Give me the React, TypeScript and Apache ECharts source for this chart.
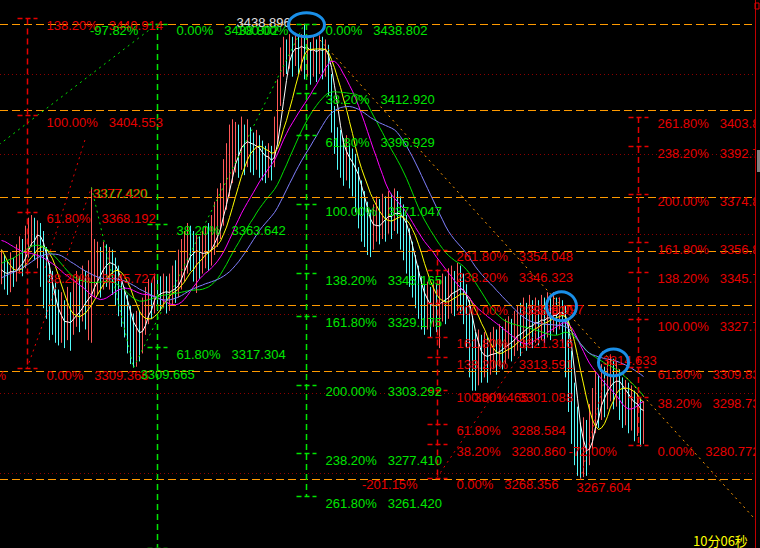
import { useEffect, useRef } from 'react';
import * as echarts from 'echarts';

// Closes of the bars that come before the visible window (they seed the averages)
const priorCloses = [
  3322, 3325, 3320, 3326, 3329, 3324, 3327, 3331, 3328, 3333,
  3330, 3326, 3329, 3334, 3331, 3327, 3330, 3333, 3329, 3332,
  3345, 3352, 3356, 3361, 3358, 3364, 3362, 3366, 3360, 3363,
  3367, 3365, 3368, 3362, 3359, 3354, 3350, 3346, 3343, 3345,
];

// One-minute bars: closing, high and low prices
const closes = [
  3348.0, 3345.2, 3343.9, 3346.5, 3344.8, 3349.7, 3352.3, 3350.1, 3356.8, 3359.5,
  3362.4, 3358.0, 3360.9, 3354.2, 3347.6, 3340.3, 3335.8, 3330.2, 3327.5, 3325.1,
  3327.8, 3324.6, 3329.3, 3326.0, 3331.7, 3334.5, 3330.8, 3337.2, 3335.0, 3339.6,
  3341.8, 3345.1, 3348.6, 3346.2, 3351.0, 3349.3, 3350.5, 3346.8, 3343.0, 3338.9,
  3334.6, 3331.0, 3327.3, 3322.5, 3318.7, 3324.4, 3321.0, 3329.8, 3333.5, 3336.9,
  3335.2, 3339.4, 3338.1, 3337.0, 3339.8, 3336.5, 3338.2, 3341.9, 3340.3, 3345.6,
  3348.9, 3352.4, 3355.8, 3354.5, 3351.2, 3353.8, 3350.6, 3352.9, 3355.1, 3353.0,
  3358.6, 3361.4, 3365.9, 3369.4, 3376.8, 3381.0, 3386.5, 3391.2, 3394.8, 3392.0,
  3396.9, 3393.5, 3395.7, 3392.1, 3389.8, 3393.4, 3390.0, 3387.2, 3385.6, 3388.1,
  3387.0, 3396.0, 3411.5, 3423.8, 3429.6, 3427.2, 3431.0, 3428.4, 3432.1, 3429.0,
  3431.5, 3427.6, 3429.8, 3426.5, 3430.2, 3427.9, 3431.4, 3428.3, 3429.5, 3418.0,
  3405.2, 3396.8, 3392.5, 3390.2, 3386.4, 3388.9, 3385.0, 3383.7, 3379.2, 3374.0,
  3368.5, 3364.8, 3362.0, 3358.5, 3363.2, 3366.9, 3364.1, 3367.5, 3365.2, 3368.8,
  3366.4, 3369.9, 3368.0, 3364.3, 3360.8, 3356.2, 3350.5, 3345.8, 3341.0, 3337.4,
  3333.0, 3331.5, 3334.2, 3330.6, 3335.8, 3332.4, 3334.9, 3337.8, 3335.3, 3338.6,
  3340.2, 3337.9, 3341.0, 3339.1, 3336.2, 3330.5, 3322.8, 3314.6, 3311.9, 3316.2,
  3313.0, 3315.8, 3312.4, 3315.0, 3317.6, 3314.9, 3318.3, 3316.5, 3319.7, 3321.8,
  3319.4, 3322.9, 3324.5, 3322.0, 3326.8, 3324.3, 3327.9, 3325.6, 3328.1, 3326.9,
  3329.4, 3327.2, 3330.0, 3328.5, 3331.2, 3329.8, 3332.0, 3330.1, 3322.4, 3309.0,
  3296.8, 3284.5, 3278.2, 3272.0, 3280.6, 3277.3, 3286.9, 3292.4, 3298.8, 3296.5,
  3302.7, 3300.4, 3305.1, 3307.8, 3303.6, 3305.9, 3300.2, 3297.5, 3299.6, 3295.8,
  3297.0, 3293.2, 3294.5, 3290.8, 3292.1,
];

const highs = [
  3354, 3352, 3350, 3353, 3351, 3356, 3359, 3358, 3363, 3366,
  3367, 3366, 3365, 3364, 3361, 3355, 3349, 3346, 3342, 3339,
  3338, 3335, 3340, 3338, 3343, 3346, 3344, 3348, 3346, 3350,
  3377.42, 3358, 3357, 3355, 3357, 3356, 3355, 3354, 3351, 3348,
  3343, 3340, 3337, 3333, 3330, 3331, 3331, 3336, 3340, 3343,
  3342, 3345, 3344, 3344, 3345, 3344, 3345, 3348, 3350, 3354,
  3358, 3361, 3364, 3363, 3361, 3360, 3359, 3361, 3363, 3364,
  3367, 3372, 3377, 3379, 3388, 3394, 3401, 3403, 3402, 3401,
  3404, 3401, 3403, 3400, 3398, 3399, 3397, 3395, 3393, 3394,
  3393, 3404, 3418, 3430, 3434, 3433, 3435, 3434, 3435.5, 3434,
  3435, 3438.896, 3434, 3432, 3434, 3433, 3434.5, 3434, 3433, 3431,
  3420, 3408, 3400, 3399, 3396, 3397, 3394, 3392, 3390, 3385,
  3380, 3376, 3372, 3369, 3371, 3374, 3373, 3375, 3374, 3376,
  3375, 3377, 3376, 3374, 3371, 3367, 3362, 3357, 3352, 3348,
  3344, 3341, 3342, 3340, 3342, 3341, 3343, 3345, 3344, 3347,
  3348, 3346, 3349, 3348, 3345, 3341, 3335, 3329, 3323, 3324,
  3322, 3323, 3321, 3323, 3325, 3324, 3326, 3325, 3328, 3329,
  3328, 3331, 3333, 3334, 3336, 3334, 3337, 3335, 3336, 3335,
  3337, 3336, 3338, 3337, 3338, 3336, 3336.097, 3335, 3333, 3328,
  3316, 3304, 3295, 3289, 3291, 3290, 3296, 3302, 3308, 3307,
  3311, 3310, 3313, 3314.633, 3313, 3312, 3309, 3306, 3305, 3304,
  3303, 3301, 3300, 3298, 3297,
];

const lows = [
  3341, 3339, 3337, 3338, 3340, 3342, 3345, 3344, 3347, 3351,
  3355, 3350, 3347, 3340, 3332, 3328, 3320, 3322, 3319, 3318,
  3319, 3317, 3320, 3316, 3322, 3325, 3323, 3327, 3324, 3320,
  3319, 3336, 3337, 3336, 3339, 3340, 3339, 3337, 3333, 3329,
  3325, 3321, 3315, 3311, 3309.665, 3310, 3312, 3315, 3322, 3326,
  3328, 3330, 3331, 3331, 3332, 3330, 3331, 3333, 3334, 3336,
  3339, 3342, 3345, 3346, 3342, 3337.7, 3343, 3345, 3347, 3346,
  3348, 3352, 3355, 3358, 3363, 3369, 3374, 3379, 3383, 3381,
  3384, 3382, 3385, 3383, 3382, 3384, 3381, 3380, 3379, 3381,
  3380, 3385, 3394, 3408, 3419, 3420, 3422, 3419, 3423, 3420,
  3421, 3418, 3419, 3416, 3419, 3417, 3420, 3418, 3419, 3412,
  3398, 3390, 3384, 3381, 3378, 3380, 3377, 3374, 3368, 3362,
  3357, 3355, 3352, 3351.2, 3354, 3357, 3356, 3358, 3357, 3360,
  3358, 3361, 3360, 3354, 3350, 3345, 3340, 3336, 3332, 3328,
  3324, 3322, 3324, 3321, 3325, 3323, 3317, 3327, 3326, 3328,
  3330, 3329, 3331, 3330, 3326, 3317, 3306, 3301, 3301, 3303,
  3304, 3306, 3304, 3307, 3309, 3307, 3310, 3309, 3311, 3313,
  3312, 3314, 3316, 3314, 3317, 3316, 3318, 3317, 3319, 3318,
  3320, 3319, 3321, 3320, 3323, 3322, 3324, 3319, 3306, 3293,
  3281, 3273, 3269, 3267.604, 3268.5, 3269, 3273, 3279, 3285, 3287,
  3290, 3291, 3294, 3297, 3294, 3295, 3290, 3287, 3288, 3285,
  3286, 3282, 3284, 3280, 3281,
];

// Moving averages: period and colour
const maPeriods = [5, 10, 20, 30, 40];
const maColors = ['#ffffff', '#ffff00', '#ff00ff', '#00e000', '#8080ff'];

// Price grid and horizontal key levels
const gridPrices = [3270, 3300, 3330, 3360, 3390, 3420];
const keyPrices = [3438.7, 3406.5, 3373.8, 3353.5, 3333.2, 3308.4, 3267.7];

// Fibonacci tools: [label, price] levels
type Level = [string, number];
const fibR1Levels: Level[] = [
  ['138.20%', 3440.914], ['100.00%', 3404.553], ['61.80%', 3368.192],
  ['38.20%', 3345.727], ['0.00%', 3309.366],
];
const fibG1Levels: Level[] = [
  ['0.00%', 3438.802], ['38.20%', 3363.642], ['61.80%', 3317.304],
];
const fibG1Tail = 3242.05;
const fibG2Levels: Level[] = [
  ['0.00%', 3438.802], ['38.20%', 3412.920], ['61.80%', 3396.929],
  ['100.00%', 3371.047], ['138.20%', 3345.165], ['161.80%', 3329.175],
  ['200.00%', 3303.292], ['238.20%', 3277.410], ['261.80%', 3261.420],
];
const fibR2Levels: Level[] = [
  ['261.80%', 3354.048], ['238.20%', 3346.323], ['200.00%', 3333.820],
  ['161.80%', 3321.316], ['138.20%', 3313.591], ['100.00%', 3301.088],
  ['61.80%', 3288.584], ['38.20%', 3280.860], ['0.00%', 3268.356],
];
const fibR3Levels: Level[] = [
  ['261.80%', 3403.870], ['238.20%', 3392.774], ['200.00%', 3374.812],
  ['161.80%', 3356.850], ['138.20%', 3345.752], ['100.00%', 3327.792],
  ['61.80%', 3309.830], ['38.20%', 3298.734], ['0.00%', 3280.772],
];

const RED = '#e60000';
const GREEN = '#00e600';
const UP = '#ff5858';
const DOWN = '#54fcfc';
const ORANGE = '#ff9a00';
const FONT = '13px "Liberation Sans", Arial, sans-serif';
const NB = '\u00a0\u00a0\u00a0';

function movingAverage(n: number): number[][] {
  const all = priorCloses.concat(closes);
  const off = priorCloses.length;
  const out: number[][] = [];
  for (let i = 0; i < closes.length; i++) {
    const end = off + i;
    const start = Math.max(0, end - n + 1);
    let sum = 0;
    for (let k = start; k <= end; k++) sum += all[k];
    out.push([i, sum / (end - start + 1)]);
  }
  return out;
}

export default function App() {
  const ref = useRef<HTMLDivElement>(null);

  useEffect(() => {
    if (!ref.current) return;
    const chart = echarts.init(ref.current, undefined, { renderer: 'svg' });

    const bars = closes.map((c, i) => {
      const o = i === 0 ? priorCloses[priorCloses.length - 1] : closes[i - 1];
      const hi = Math.max(highs[i], o, c);
      const lo = Math.min(lows[i], o, c);
      return [i, lo, hi, c >= o ? 1 : 0];
    });

    chart.setOption({
      animation: false,
      backgroundColor: '#000000',
      grid: { left: 0, top: 0, width: 756, height: 548 },
      xAxis: { type: 'value', min: -0.5, max: 251.5, show: false },
      yAxis: { type: 'value', min: 3241.88, max: 3447.82, show: false },
      series: [
        {
          type: 'custom',
          z: 2,
          data: bars,
          encode: { x: 0, y: [1, 2] },
          renderItem: (_p: any, api: any) => {
            const i = api.value(0);
            const a = api.coord([i, api.value(1)]);
            const b = api.coord([i, api.value(2)]);
            return {
              type: 'line',
              shape: { x1: a[0], y1: a[1], x2: b[0], y2: b[1] },
              style: { stroke: api.value(3) ? UP : DOWN, lineWidth: 1 },
            };
          },
        },
        ...maPeriods.map((n, k) => ({
          type: 'line',
          z: 3,
          data: movingAverage(n),
          showSymbol: false,
          silent: true,
          lineStyle: { color: maColors[k], width: 1 },
        })),
      ],
    });

    const px = (bar: number, price: number) =>
      chart.convertToPixel({ gridIndex: 0 }, [bar, price]) as number[];
    const xL = px(-0.5, 3300)[0];
    const xR = px(251.5, 3300)[0];

    const g: any[] = [];
    const line = (x1: number, y1: number, x2: number, y2: number, stroke: string, dash: number[] | null, w = 1, z = 5) =>
      g.push({ type: 'line', silent: true, z, shape: { x1, y1, x2, y2 }, style: { stroke, lineWidth: w, lineDash: dash } });
    const text = (t: string, x: number, y: number, fill: string, align = 'left', font = FONT) =>
      g.push({
        type: 'text', silent: true, z: 8, x, y,
        style: { text: t, fill, font, align, verticalAlign: 'middle', textAlign: align, textVerticalAlign: 'middle' },
      });

    gridPrices.forEach((p) => {
      const y = Math.round(px(0, p)[1]) + 0.5;
      line(xL, y, xR, y, '#8c0000', [1, 3], 1, 0);
    });
    keyPrices.forEach((p) => {
      const y = Math.round(px(0, p)[1]) + 0.5;
      line(xL, y, xR, y, ORANGE, [8, 4], 1, 4);
    });

    // trend lines
    const seg = (b1: number, p1: number, b2: number, p2: number, c: string) => {
      const a = px(b1, p1);
      const b = px(b2, p2);
      line(a[0], a[1], b[0], b[1], c, [2, 4], 1, 5);
    };
    seg(-4, 3390.7, 51.83, 3438.8, GREEN);
    seg(44, 3309.665, 101, 3438.896, GREEN);
    seg(30, 3377.42, 44, 3309.665, GREEN);
    seg(8.5, 3309.366, 30, 3377.42, RED);
    seg(14.5, 3347.1, 27.8, 3395.2, RED);
    seg(145.17, 3268.356, 186, 3336.097, RED);
    seg(193, 3267.604, 203, 3314.633, RED);
    seg(106.17, 3432.79, 251.5, 3252.3, ORANGE);

    // fibonacci scales
    const fib = (bar: number, levels: Level[], color: string, tail?: number) => {
      const x = Math.round(px(bar, 3300)[0]) + 0.5;
      const prices = levels.map((l) => l[1]);
      if (tail !== undefined) prices.push(tail);
      const top = px(bar, Math.max(...prices))[1];
      const bot = px(bar, Math.min(...prices))[1];
      line(x, top, x, bot, color, [6, 4], 1.5, 6);
      prices.forEach((p) => {
        const y = Math.round(px(bar, p)[1]) + 0.5;
        line(x - 10, y, x + 10, y, color, [5, 3], 1.5, 6);
      });
      levels.forEach(([label, p]) => {
        text(label + NB + p.toFixed(3), x + 19, px(bar, p)[1] + 7, color);
      });
    };
    fib(8.5, fibR1Levels, RED);
    fib(51.83, fibG1Levels, GREEN, fibG1Tail);
    fib(101.5, fibG2Levels, GREEN);
    fib(145.17, fibR2Levels, RED);
    fib(212.17, fibR3Levels, RED);

    // point annotations
    const note = (t: string, bar: number, price: number, dx: number, dy: number, c: string, align = 'left') => {
      const p = px(bar, price);
      text(t, p[0] + dx, p[1] + dy, c, align);
    };
    note('3438.896', 101, 3438.896, -68, -1, '#e0e0e0');
    note('-97.82%', 51.83, 3438.802, -67, 7, GREEN);
    note('100.00%', 51.83, 3438.802, 80, 7, GREEN);
    note('3377.420', 30, 3377.42, 2, 6, GREEN);
    note('3377.420', 30, 3377.42, 1, 6, RED);
    note('3309.665', 44, 3309.665, 7, 7, GREEN);
    note('61.80%', 8.5, 3309.366, -21, 7, RED, 'right');
    note('-201.15%', 101.5, 3268.356, 56, 7, RED);
    note('3301.465', 145.17, 3301.088, 37, 7, RED);
    note('3336.097', 186, 3336.097, -30, 12, RED);
    note('3314.633', 203, 3314.633, -8, 6, RED);
    note('-72.00%', 193, 3280.86, -12, 7, RED);
    note('3267.604', 193, 3267.604, -4, 8, RED);

    // highlight rings
    const ring = (bar: number, price: number, rx: number, ry: number, dx: number, dy: number) => {
      const p = px(bar, price);
      g.push({
        type: 'ellipse', silent: true, z: 9,
        shape: { cx: p[0] + dx, cy: p[1] + dy, rx, ry },
        style: { fill: 'none', stroke: '#1a8fe8', lineWidth: 3 },
      });
    };
    ring(101, 3438.896, 18, 12, 2, 1);
    ring(186, 3336.097, 15, 14.5, 2, 9);
    ring(204, 3314.633, 15, 13.5, 0, 8);

    text('10分06秒', 693, 540, '#ffff00', 'left', '13px "Noto Sans CJK SC", sans-serif');

    // right edge strip
    g.push({ type: 'rect', silent: true, z: 20, shape: { x: 756, y: 0, width: 4, height: 548 }, style: { fill: '#000' } });
    g.push({ type: 'line', silent: true, z: 21, shape: { x1: 755.5, y1: 0, x2: 755.5, y2: 548 }, style: { stroke: '#c00000', lineWidth: 1 } });
    g.push({ type: 'rect', silent: true, z: 21, shape: { x: 755, y: 3, width: 4, height: 6 }, style: { fill: 'none', stroke: '#e00000', lineWidth: 1 } });
    g.push({ type: 'rect', silent: true, z: 21, shape: { x: 757, y: 150, width: 3, height: 22 }, style: { fill: '#808080' } });

    chart.setOption({ graphic: g });

    return () => chart.dispose();
  }, []);

  return (
    <div style={{ position: 'fixed', left: 0, top: 0, width: 760, height: 548, background: '#000' }}>
      <div ref={ref} style={{ width: 760, height: 548 }} />
    </div>
  );
}
